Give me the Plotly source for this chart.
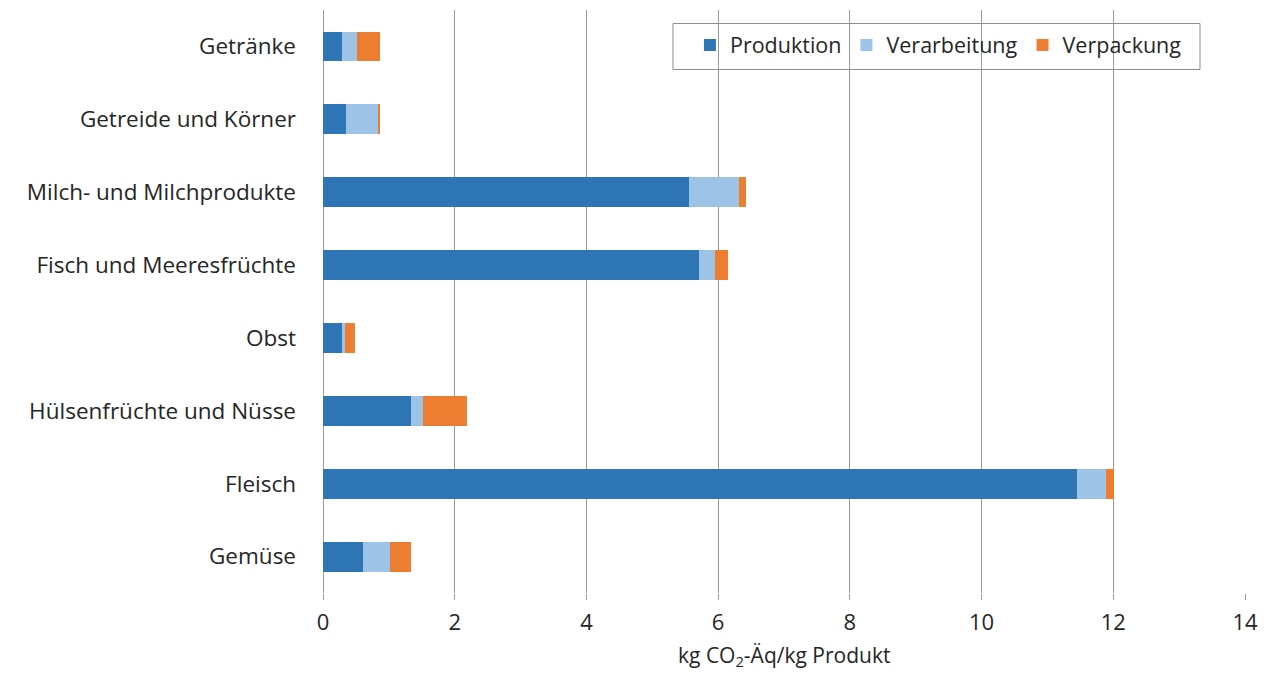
import plotly.graph_objects as go

# categories, top to bottom as in the chart
categories = [
    "Getränke", "Getreide und Körner", "Milch- und Milchprodukte",
    "Fisch und Meeresfrüchte", "Obst", "Hülsenfrüchte und Nüsse",
    "Fleisch", "Gemüse",
]
produktion = [0.29, 0.35, 5.56, 5.71, 0.29, 1.34, 11.45, 0.61]
verarbeitung = [0.22, 0.50, 0.75, 0.24, 0.04, 0.18, 0.44, 0.41]
verpackung = [0.36, 0.02, 0.12, 0.20, 0.16, 0.67, 0.12, 0.32]

x_ticks = [0, 2, 4, 6, 8, 10, 12, 14]

series = [
    ("Produktion", produktion, "#2E75B6"),
    ("Verarbeitung", verarbeitung, "#9DC3E6"),
    ("Verpackung", verpackung, "#ED7D31"),
]

fig = go.Figure()
for name, vals, color in series:
    fig.add_trace(go.Bar(
        y=categories, x=vals, name=name, orientation="h",
        marker=dict(color=color, line=dict(width=0)),
    ))

# legend frame drawn as a shape so the padding matches the original
fig.add_shape(
    type="rect", xref="paper", yref="paper",
    x0=0.3796, x1=0.9512, y0=0.898, y1=0.9768,
    line=dict(color="#8c8c8c", width=1), fillcolor="white", layer="below",
)

# x axis title as annotation (axis title would push the margin)
fig.add_annotation(
    text="kg CO<sub>2</sub>-Äq/kg Produkt", xref="paper", yref="paper",
    x=0.5, y=0, xanchor="center", yanchor="middle", yshift=-63,
    showarrow=False, font=dict(size=21),
)

# page body has an 8px margin, so the figure is a bit smaller than the window
fig.update_layout(
    barmode="stack",
    bargap=0.59,
    width=1255, height=663,
    margin=dict(l=315, r=18, t=2, b=78),
    plot_bgcolor="white", paper_bgcolor="white",
    font=dict(family="Open Sans", size=22, color="#262626"),
    legend=dict(
        orientation="h", x=0.398, y=0.975, xanchor="left", yanchor="top",
        borderwidth=0, bgcolor="rgba(0,0,0,0)",
        font=dict(size=21.5), traceorder="normal",
        itemwidth=30,
    ),
    showlegend=True,
)
fig.update_xaxes(
    range=[0, 14], tickvals=x_ticks, showgrid=True, gridcolor="#9a9a9a",
    gridwidth=1, zeroline=True, zerolinecolor="#9a9a9a", zerolinewidth=1,
    ticks="outside", ticklen=6, tickcolor="#9a9a9a", ticklabelstandoff=4,
    showline=False, tickfont=dict(size=22), automargin=False,
)
fig.update_yaxes(
    autorange="reversed", showgrid=False, ticks="", ticklabelstandoff=26,
    tickfont=dict(size=22.5), showline=False,
)

fig.write_html("out.html")
